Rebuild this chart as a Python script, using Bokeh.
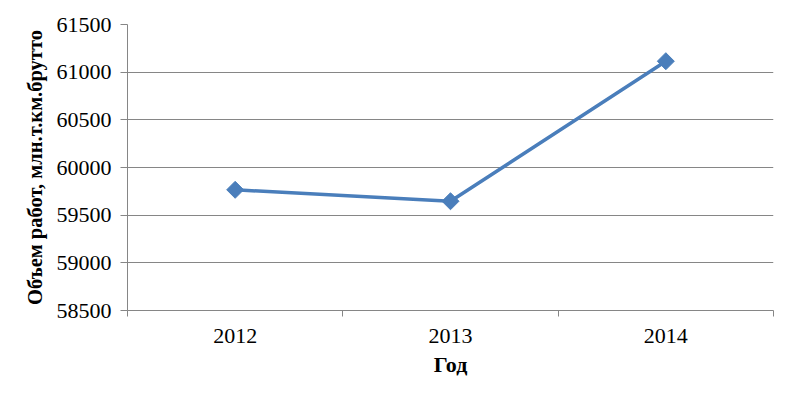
import numpy as np
from bokeh.plotting import figure
from bokeh.models import FixedTicker, Range1d
from bokeh.embed import file_html
from bokeh.resources import INLINE

years = [2012, 2013, 2014]
values = [59766, 59646, 61115]
y_ticks = [58500, 59000, 59500, 60000, 60500, 61000, 61500]

FONT = "Liberation Serif"
LINE_COLOR = "#4a7ebb"
GRID = "#868686"

p = figure(width=790, height=395, output_backend="svg", toolbar_location=None,
           x_range=Range1d(years[0] - 0.5, years[-1] + 0.5),
           y_range=Range1d(y_ticks[0], y_ticks[-1]),
           min_border_left=127, min_border_right=17, min_border_top=24, min_border_bottom=85)
p.outline_line_color = None
p.background_fill_color = "white"
p.border_fill_color = "white"

p.line(years, values, line_color=LINE_COLOR, line_width=3.5)
p.scatter(years, values, marker="square", angle=np.pi / 4, size=12,
          fill_color=LINE_COLOR, line_color=LINE_COLOR)

xa = p.xaxis[0]
xa.ticker = FixedTicker(ticks=years, minor_ticks=[y - 0.5 for y in years] + [years[-1] + 0.5])
xa.major_label_overrides = {y: str(y) for y in years}
xa.major_tick_out = 0
xa.major_tick_in = 0
xa.minor_tick_out = 6
xa.minor_tick_in = 0
xa.minor_tick_line_color = GRID
xa.axis_line_color = GRID
xa.major_label_text_font = FONT
xa.major_label_text_font_size = "22px"
xa.major_label_text_color = "black"
xa.major_label_standoff = 12
xa.axis_label = "Год"
xa.axis_label_text_font = FONT
xa.axis_label_text_font_style = "bold"
xa.axis_label_text_font_size = "22px"
xa.axis_label_text_color = "black"
xa.axis_label_standoff = 6

ya = p.yaxis[0]
ya.ticker = FixedTicker(ticks=y_ticks, minor_ticks=[])
ya.major_tick_out = 7
ya.major_tick_in = 0
ya.major_tick_line_color = GRID
ya.axis_line_color = GRID
ya.major_label_text_font = FONT
ya.major_label_text_font_size = "22px"
ya.major_label_text_color = "black"
ya.major_label_standoff = 9
ya.axis_label = "Объем работ, млн.т.км.брутто"
ya.axis_label_text_font = FONT
ya.axis_label_text_font_style = "bold"
ya.axis_label_text_font_size = "20.5px"
ya.axis_label_text_color = "black"
ya.axis_label_standoff = 8

p.xgrid.grid_line_color = None
p.ygrid.grid_line_color = GRID
p.ygrid.grid_line_width = 1

open("out.html", "w").write(file_html(p, INLINE))
